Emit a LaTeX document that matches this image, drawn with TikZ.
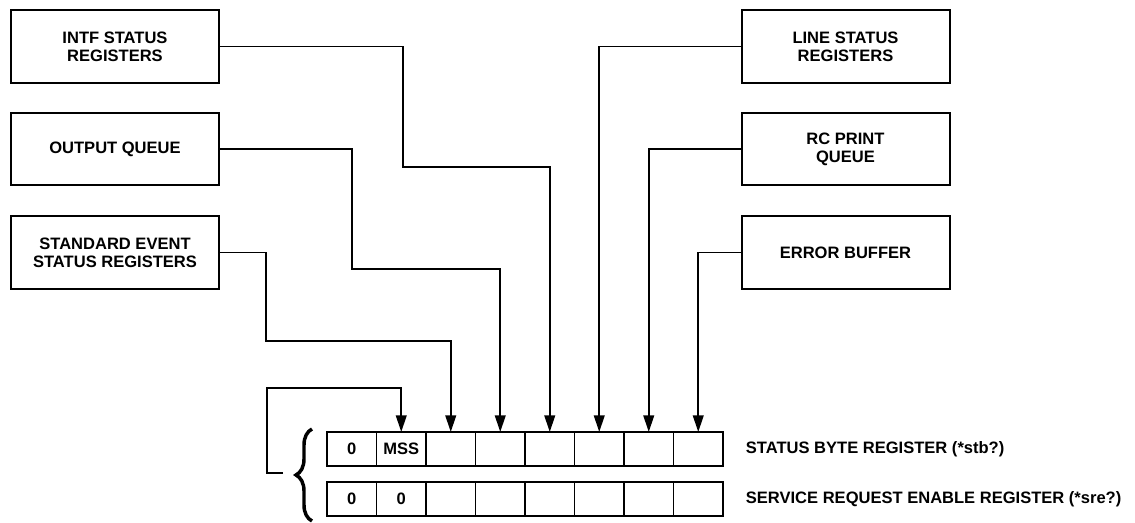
\documentclass[tikz,border=0pt]{standalone}
\usepackage{fontspec}
\setmainfont{Liberation Sans}
\usetikzlibrary{positioning,arrows.meta,decorations.pathreplacing}

\newcommand*{\cellw}{37.1pt}
\newcommand*{\cellh}{25.5pt}

\begin{document}
\begin{tikzpicture}
[
	x=0.75pt,
	y=-0.75pt,
	font=\fontsize{12.4}{13.5}\selectfont\bfseries,
	srcbox/.style={draw,line width=1.5pt,minimum width=156pt,minimum height=54.5pt,align=center,inner sep=0pt,outer sep=0pt},
	regcell/.style={draw,line width=1.3pt,minimum width=\cellw,minimum height=\cellh,inner sep=0pt,outer sep=0pt},
	feed/.style={line width=1.4pt,-{Triangle[length=12.5pt,width=8pt]}},
	reglabel/.style={inner sep=0pt}
]
	\useasboundingbox (0,0) rectangle (1135,523);

	% sources
	\node[srcbox] (intf) at (115,46.5) {INTF STATUS\\REGISTERS};
	\node[srcbox] (outq) at (115,149) {OUTPUT QUEUE};
	\node[srcbox] (sesr) at (115,252.5) {STANDARD EVENT\\STATUS REGISTERS};
	\node[srcbox] (line) at (845.5,46.5) {LINE STATUS\\REGISTERS};
	\node[srcbox] (rcq) at (845.5,149) {RC PRINT\\QUEUE};
	\node[srcbox] (errbuf) at (845.5,252.5) {ERROR BUFFER};

	% registers
	\foreach \i/\t in {1/0,2/MSS,3/,4/,5/,6/,7/,8/}
		\node[regcell] (sb\i) at ({327+(\i-0.5)*49.5},449) {\t};
	\foreach \i/\t in {1/0,2/0,3/,4/,5/,6/,7/,8/}
		\node[regcell] (se\i) at ({327+(\i-0.5)*49.5},499) {\t};
	\node[reglabel,right=17pt of sb8] (sblabel) {STATUS BYTE REGISTER (*stb?)};
	\node[reglabel,right=17pt of se8] (selabel) {SERVICE REQUEST ENABLE REGISTER (*sre?)};

	% brace
	\draw[line width=2.6pt,decorate,decoration={brace,amplitude=12pt}] (312,521) -- (312,429);

	% connectors
	\draw[feed] (intf.east) -| (403,167) -| (sb5.north);
	\draw[feed] (outq.east) -| (352,269) -| (sb4.north);
	\draw[feed] (sesr.east) -| (266,341) -| (sb3.north);
	\draw[feed] (line.west) -| (sb6.north);
	\draw[feed] (rcq.west) -| (sb7.north);
	\draw[feed] (errbuf.west) -| (sb8.north);

	% feedback
	\coordinate (fbstart) at (283,473);
	\draw[feed] (fbstart) -| (267,388) -| (sb2.north);

\end{tikzpicture}
\end{document}
